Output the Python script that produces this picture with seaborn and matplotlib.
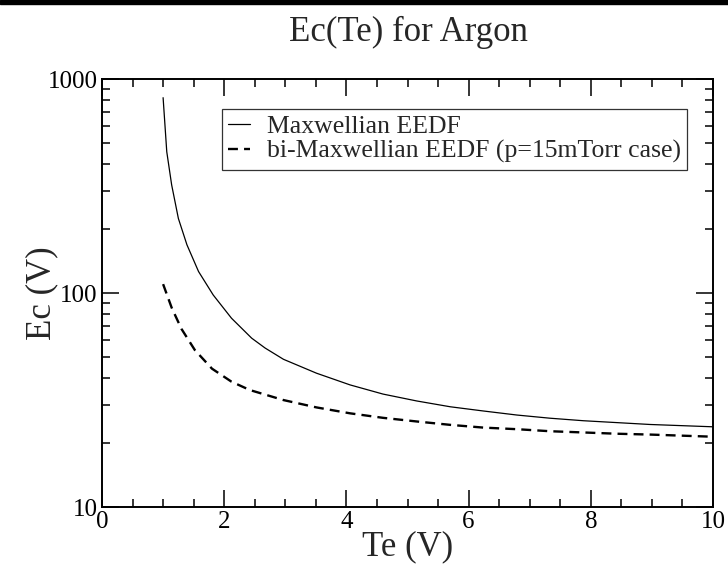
import matplotlib
matplotlib.use("Agg")
import matplotlib.pyplot as plt
from matplotlib.patches import Rectangle
from matplotlib.ticker import FixedLocator, FixedFormatter, LogLocator, MultipleLocator, NullFormatter
import seaborn as sns
import pandas as pd

# Data
te_max = [1.0, 1.06, 1.14, 1.25, 1.39, 1.58, 1.82, 2.12, 2.45, 2.67, 2.97, 3.51, 4.06, 4.60,
          5.15, 5.70, 6.24, 6.79, 7.33, 7.88, 8.42, 8.97, 10.0]
ec_max = [818, 457, 320, 223, 168, 126, 97.9, 76.2, 61.5, 55.3, 49.0, 42.2, 37.2, 33.7,
          31.3, 29.4, 28.1, 26.9, 26.0, 25.3, 24.8, 24.3, 23.7]

te_bimax = [1.0, 1.14, 1.30, 1.52, 1.80, 2.12, 2.42, 2.97, 3.51, 4.06, 4.60, 5.15, 5.70,
            6.24, 6.79, 7.33, 7.88, 8.42, 8.97, 10.0]
ec_bimax = [110, 85.4, 68.0, 54.1, 44.3, 38.5, 35.2, 31.6, 29.2, 27.4, 26.1, 25.1, 24.2,
            23.5, 23.1, 22.6, 22.3, 22.0, 21.8, 21.3]

labels = ["Maxwellian EEDF", "bi-Maxwellian EEDF (p=15mTorr case)"]
title = "Ec(Te) for Argon"
xlabel = "Te (V)"
ylabel = "Ec (V)"
xticks = [0, 2, 4, 6, 8, 10]
yticks = [10, 100, 1000]

df = pd.concat([
    pd.DataFrame({"Te": te_max, "Ec": ec_max, "series": labels[0]}),
    pd.DataFrame({"Te": te_bimax, "Ec": ec_bimax, "series": labels[1]}),
])

sns.set_style("ticks")
plt.rcParams["font.family"] = ["Liberation Serif", "DejaVu Serif"]

fig = plt.figure(figsize=(7.28, 5.66), dpi=100)
ax = fig.add_axes([102 / 728, 59 / 566, 611 / 728, 428 / 566])

sns.lineplot(data=df[df.series == labels[0]], x="Te", y="Ec", ax=ax, color="black",
             linewidth=0.9, label=labels[0], sort=False, estimator=None)
sns.lineplot(data=df[df.series == labels[1]], x="Te", y="Ec", ax=ax, color="black",
             linewidth=1.7, linestyle=(0, (4.2, 2.6)), label=labels[1], sort=False, estimator=None)

ax.set_yscale("log")
ax.set_xlim(0, 10)
ax.set_ylim(10, 1000)

ax.xaxis.set_major_locator(FixedLocator(xticks))
ax.xaxis.set_minor_locator(MultipleLocator(0.5))
ax.yaxis.set_major_locator(FixedLocator(yticks))
ax.yaxis.set_major_formatter(FixedFormatter([str(v) for v in yticks]))
ax.yaxis.set_minor_locator(LogLocator(base=10, subs=range(2, 10)))
ax.yaxis.set_minor_formatter(NullFormatter())

ax.tick_params(which="both", direction="in", top=True, right=True, colors="black",
               labelsize=18, width=1.1)
ax.tick_params(which="major", length=12, pad=3)
ax.tick_params(which="minor", length=6)
ax.tick_params(axis="y", which="major", pad=3)
for s in ax.spines.values():
    s.set_linewidth(1.4)
    s.set_color("black")

ax.set_xlabel(xlabel, fontsize=25, labelpad=-2)
ax.set_ylabel(ylabel, fontsize=25)
ax.yaxis.set_label_coords(-44 / 611, 0.5)
fig.text(408 / 728, 1 - 32 / 566, title, ha="center", va="center", fontsize=25)

leg = ax.legend(loc="upper left", bbox_to_anchor=(120 / 611, (507 - 109) / 428), borderaxespad=0,
                fontsize=18.5, frameon=True, fancybox=False, handlelength=0.85,
                handletextpad=0.65, borderpad=0.25, labelspacing=0.05)
leg.get_frame().set_edgecolor("black")
leg.get_frame().set_linewidth(0.9)

fig.patches.append(Rectangle((0, 1 - 4 / 566), 1, 4 / 566, transform=fig.transFigure,
                             color="black", zorder=10))

fig.savefig("out.png", dpi=100)
